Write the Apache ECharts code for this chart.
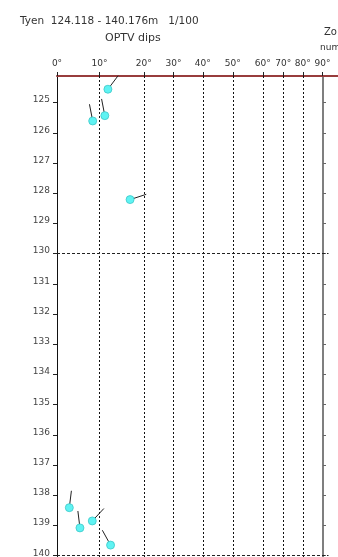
<!DOCTYPE html>
<html><head><meta charset="utf-8">
<script src="https://cdn.jsdelivr.net/npm/echarts@6/dist/echarts.min.js"></script>
<style>html,body{margin:0;padding:0;background:#fff}#c{width:338px;height:557px}</style>
</head><body><div id="c"></div>
<script>
// ---- data ----
const depths   = [124.556, 125.43, 125.606, 128.21, 138.41, 139.08, 138.85, 139.65];
const dips     = [11.9, 11.2, 8.4, 16.9, 2.9, 5.4, 8.3, 12.5];
const azimuths = [37, 349, 349, 72, 7, 353, 43, 331];
const dipTicks = [0, 10, 20, 30, 40, 50, 60, 70, 80, 90];
const depthTicks = [125,126,127,128,129,130,131,132,133,134,135,136,137,138,139,140];
const depthMin = 124.118, depthMax = 140.176;

// nonlinear dip scale: degrees -> axis units
const scaleUnits = [0, 42.5, 86.8, 116.5, 145.8, 175.8, 205.8, 226.2, 245.8, 265.5];
function dipToX(d){
  for (let i=0;i<dipTicks.length-1;i++){
    if (d<=dipTicks[i+1]){
      const t=(d-dipTicks[i])/(dipTicks[i+1]-dipTicks[i]);
      return scaleUnits[i]+t*(scaleUnits[i+1]-scaleUnits[i]);
    }
  }
  return scaleUnits[scaleUnits.length-1];
}
const xTickVals = dipTicks.map(dipToX);
const F = 'DejaVu Sans';

const chart = echarts.init(document.getElementById('c'));
const data = depths.map((z,i)=>[dipToX(dips[i]), z, azimuths[i]]);

chart.setOption({
  animation:false,
  backgroundColor:'#fff',
  title:[
    {text:'Tyen  124.118 - 140.176m   1/100', left:15, top:11, textStyle:{fontFamily:F,fontSize:10.5,fontWeight:'normal',color:'#333'}},
    {text:'OPTV dips', left:100, top:28, textStyle:{fontFamily:F,fontSize:11,fontWeight:'normal',color:'#333'}},
    {text:'Zo', left:319, top:22, textStyle:{fontFamily:F,fontSize:10,fontWeight:'normal',color:'#333'}},
    {text:'num', left:315, top:38, textStyle:{fontFamily:F,fontSize:9,fontWeight:'normal',color:'#333'}}
  ],
  grid:{left:57, top:76, width:281, height:485, containLabel:false, outerBoundsMode:'none'},
  xAxis:{type:'value', position:'top', min:0, max:281,
    axisLine:{show:true, onZero:false, lineStyle:{color:'#983c3c', width:2}},
    axisTick:{show:true, length:4, inside:false, customValues:xTickVals, lineStyle:{color:'#222'}},
    axisLabel:{show:true, customValues:xTickVals, margin:8, fontFamily:F, fontSize:9, color:'#333',
      formatter:v=>{let b=0,bd=1e9;xTickVals.forEach((x,i)=>{if(Math.abs(x-v)<bd){bd=Math.abs(x-v);b=i;}});return dipTicks[b]+'°';}},
    splitLine:{show:false}
  },
  yAxis:[
    {type:'value', inverse:true, min:depthMin, max:depthMax, position:'left',
      axisLine:{show:true, onZero:false, lineStyle:{color:'#111', width:1}},
      axisTick:{show:true, length:4, customValues:depthTicks, lineStyle:{color:'#222'}},
      axisLabel:{show:true, customValues:depthTicks, margin:7, fontFamily:F, fontSize:9, color:'#444', verticalAlign:'bottom', lineHeight:5},
      splitLine:{show:false}},
    {type:'value', inverse:true, min:depthMin, max:depthMax, position:'right', offset:-15,
      axisLine:{show:true, onZero:false, lineStyle:{color:'#555', width:1.5}},
      axisTick:{show:true, length:3, customValues:depthTicks, lineStyle:{color:'#666'}},
      axisLabel:{show:false},
      splitLine:{show:false}}
  ],
  series:[
    {type:'line', data:[], silent:true,
      markLine:{symbol:'none', silent:true, label:{show:false}, animation:false,
        data:[
          ...xTickVals.slice(1,9).map(x=>({xAxis:x, lineStyle:{type:[2,2], color:'#111', width:1}})),
          [{coord:[0,130], lineStyle:{type:[3,2], color:'#222', width:1}},{coord:[dipToX(90)+6,130]}],
          [{coord:[0,140], lineStyle:{type:[3,2], color:'#222', width:1}},{coord:[dipToX(90)+6,140]}]
        ]}},
    {type:'custom', data:data, clip:false,
      renderItem:(params, api)=>{
        const p = api.coord([api.value(0), api.value(1)]);
        const a = api.value(2)*Math.PI/180, L=17;
        return {type:'group', children:[
          {type:'line', shape:{x1:p[0], y1:p[1], x2:p[0]+L*Math.sin(a), y2:p[1]-L*Math.cos(a)}, style:{stroke:'#222', lineWidth:1}},
          {type:'circle', shape:{cx:p[0], cy:p[1], r:4}, style:{fill:'#5ff3f3', stroke:'#3cc8c8', lineWidth:0.8}}
        ]};
      }}
  ]
});
</script></body></html>
